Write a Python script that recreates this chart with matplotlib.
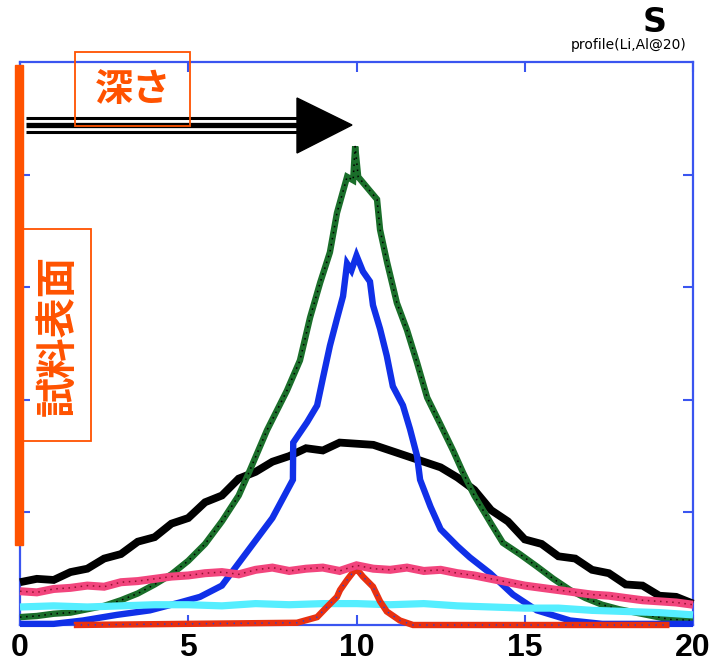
import matplotlib
matplotlib.use("Agg")
import matplotlib.pyplot as plt
from matplotlib.patches import Rectangle, Polygon
from matplotlib.lines import Line2D

# ---------------- data ----------------
black_x = [0, 0.5, 1, 1.5, 2, 2.5, 3, 3.5, 4, 4.5, 5, 5.5, 6, 6.5, 7, 7.5, 8, 8.5, 9, 9.5,
           10, 10.5, 11, 11.5, 12, 12.5, 13, 13.5, 14, 14.5, 15, 15.5, 16, 16.5, 17, 17.5,
           18, 18.5, 19, 19.5, 20]
black_y = [0.38, 0.41, 0.40, 0.47, 0.50, 0.59, 0.63, 0.74, 0.78, 0.90, 0.95, 1.09, 1.15, 1.30,
           1.36, 1.45, 1.50, 1.57, 1.55, 1.62, 1.61, 1.60, 1.55, 1.50, 1.45, 1.40, 1.31, 1.20,
           1.02, 0.92, 0.76, 0.72, 0.61, 0.59, 0.49, 0.46, 0.36, 0.35, 0.26, 0.25, 0.19]

green_x = [0, 0.5, 1, 1.5, 2, 2.5, 3, 3.5, 4, 4.5, 5, 5.5, 6, 6.5, 6.84, 7.34, 7.93, 8.32,
           8.62, 8.92, 9.21, 9.42, 9.72, 9.9, 9.96, 10.05, 10.19, 10.61, 10.70, 10.91, 11.2,
           11.5, 11.8, 12.1, 12.48, 12.87, 13.17, 13.5, 14.0, 14.35, 14.85, 15.36, 15.85,
           16.35, 16.8, 17.3, 17.8, 18.3, 18.8, 19.3, 20]
green_y = [0.07, 0.08, 0.10, 0.11, 0.14, 0.17, 0.22, 0.28, 0.36, 0.45, 0.57, 0.72, 0.92, 1.15,
           1.38, 1.73, 2.08, 2.35, 2.73, 3.04, 3.31, 3.66, 3.98, 3.95, 4.25, 3.98, 3.93, 3.78,
           3.51, 3.22, 2.86, 2.62, 2.33, 2.02, 1.79, 1.55, 1.35, 1.15, 0.90, 0.73, 0.63, 0.52,
           0.41, 0.31, 0.24, 0.18, 0.14, 0.11, 0.08, 0.05, 0.04]

blue_x = [0, 1, 1.87, 2.88, 3.86, 4.75, 5.35, 6.0, 6.5, 7.0, 7.5, 8.11, 8.12, 8.53, 8.83,
          9.0, 9.21, 9.42, 9.6, 9.72, 9.85, 10.0, 10.19, 10.4, 10.49, 10.7, 10.9, 11.08,
          11.38, 11.59, 11.8, 11.89, 12.2, 12.5, 13.0, 13.37, 13.97, 14.65, 15.36, 16.35,
          17.3, 18, 19, 20]
blue_y = [0.01, 0.01, 0.04, 0.09, 0.13, 0.20, 0.25, 0.35, 0.55, 0.75, 0.95, 1.29, 1.62, 1.80,
          1.95, 2.19, 2.48, 2.72, 2.92, 3.21, 3.15, 3.28, 3.14, 3.05, 2.84, 2.63, 2.39, 2.12,
          1.95, 1.74, 1.50, 1.29, 1.05, 0.85, 0.70, 0.60, 0.46, 0.27, 0.13, 0.04, 0.01, 0.01,
          0.01, 0.01]

pink_x = [0, 0.5, 1, 1.5, 2, 2.5, 3, 3.5, 4, 4.5, 5, 5.5, 6, 6.5, 7, 7.5, 8, 8.5, 9, 9.5,
          10, 10.5, 11, 11.5, 12, 12.5, 13, 13.5, 14, 14.5, 15, 15.5, 16, 16.5, 17, 17.5,
          18, 18.5, 19, 19.5, 20]
pink_y = [0.30, 0.29, 0.32, 0.33, 0.35, 0.34, 0.38, 0.39, 0.41, 0.43, 0.44, 0.46, 0.47, 0.45,
          0.49, 0.51, 0.48, 0.50, 0.51, 0.48, 0.53, 0.50, 0.49, 0.51, 0.48, 0.49, 0.46, 0.44,
          0.41, 0.38, 0.35, 0.33, 0.31, 0.29, 0.27, 0.26, 0.24, 0.22, 0.21, 0.20, 0.18]

cyan_x = [0, 1, 2, 3, 4, 5, 6, 7, 8, 9, 10, 11, 12, 13, 14, 15, 16, 17, 18, 19, 20]
cyan_y = [0.16, 0.17, 0.16, 0.17, 0.18, 0.18, 0.17, 0.19, 0.18, 0.19, 0.19, 0.18, 0.19, 0.17,
          0.16, 0.15, 0.15, 0.13, 0.12, 0.11, 0.09]

red_x = [1.6, 8.23, 8.83, 9.12, 9.42, 9.51, 9.72, 9.9, 10.0, 10.19, 10.49, 10.7, 10.9, 11.29,
         11.68, 19.3]
red_y = [0.0, 0.02, 0.07, 0.16, 0.25, 0.31, 0.40, 0.47, 0.50, 0.43, 0.34, 0.21, 0.12, 0.04,
         0.0, 0.0]

x_ticks = [0, 5, 10, 15, 20]
x_tick_labels = ["0", "5", "10", "15", "20"]
y_ticks = [1, 2, 3, 4]

title_big = "S"
title_small = "profile(Li,Al@20)"
label_depth = "深さ"
label_surface = "試料表面"

# ---------------- figure ----------------
W, H = 713, 666
fig = plt.figure(figsize=(W / 100, H / 100), dpi=100)
fig.patch.set_facecolor("white")

def fx(px):
    return px / W

def fy(py):
    return 1 - py / H

ax_left, ax_right, ax_top, ax_bot = 20, 693, 62, 625
ax = fig.add_axes([fx(ax_left), fy(ax_bot), (ax_right - ax_left) / W, (ax_bot - ax_top) / H])
ax.set_xlim(0, 20)
ax.set_ylim(0, 5)

axis_blue = "#3a55f0"
for s in ax.spines.values():
    s.set_color(axis_blue)
    s.set_linewidth(1.6)

ax.set_xticks(x_ticks)
ax.set_xticklabels(x_tick_labels)
ax.set_yticks(y_ticks)
ax.set_yticklabels([])
ax.tick_params(axis="both", direction="in", length=7, width=1.5, color=axis_blue,
               top=True, right=True)
ax.tick_params(axis="x", pad=6)
for lab in ax.get_xticklabels():
    lab.set_fontfamily(["Liberation Sans", "DejaVu Sans"])
    lab.set_fontweight("bold")
    lab.set_fontsize(23)
    lab.set_color("black")

common = dict(clip_on=False, solid_joinstyle="miter", solid_capstyle="butt")
ax.plot(black_x, black_y, color="black", lw=5.6, zorder=3, **common)
ax.plot(green_x, green_y, color="#1a6e2a", lw=4.6, zorder=4, **common)
ax.plot(green_x, green_y, color="black", lw=1.1, ls=(0, (1, 3)), zorder=4.1, clip_on=False)
ax.plot(blue_x, blue_y, color="#1030e8", lw=4.6, zorder=5, **common)
ax.plot(cyan_x, cyan_y, color="#55eeff", lw=5.2, zorder=6, **common)
ax.plot(red_x, red_y, color="#e83010", lw=4.6, zorder=7, **common)
ax.plot(red_x, red_y, color="#2040e0", lw=1.0, ls=(0, (1, 4)), zorder=7.1, clip_on=False)
ax.plot(pink_x, pink_y, color="#f2457d", lw=5.8, zorder=8, **common)
ax.plot(pink_x, pink_y, color="#901030", lw=1.1, ls=(0, (1, 3)), zorder=8.1, clip_on=False)

# ---------------- annotations in figure pixels ----------------
orange = "#ff5200"

# vertical orange bar (sample surface)
fig.add_artist(Rectangle((fx(15), fy(545)), 8 / W, (545 - 65) / H,
                         transform=fig.transFigure, color=orange, zorder=20))

# depth arrow: three lines + triangle head
for py, w in [(118, 2.2), (125, 3.8), (131.5, 2.2)]:
    fig.add_artist(Line2D([fx(26), fx(298)], [fy(py), fy(py)], transform=fig.transFigure,
                          color="black", lw=w, solid_capstyle="butt", zorder=20))
fig.add_artist(Polygon([(fx(297), fy(98)), (fx(297), fy(153)), (fx(352), fy(125))],
                       closed=True, transform=fig.transFigure, color="black", zorder=20))

# "深さ" box
fig.add_artist(Rectangle((fx(75), fy(126)), 115 / W, 74 / H, transform=fig.transFigure,
                         fill=False, edgecolor=orange, lw=1.3, zorder=21))
fig.text(fx(133), fy(90), label_depth, color=orange, fontsize=27.5, fontweight="bold",
         family=["Noto Sans CJK JP", "DejaVu Sans"], ha="center", va="center", zorder=22)

# "試料表面" box
fig.add_artist(Rectangle((fx(22), fy(441)), 69 / W, 212 / H, transform=fig.transFigure,
                         fill=False, edgecolor=orange, lw=1.3, zorder=21))
fig.text(fx(58), fy(336), label_surface, color=orange, fontsize=29, fontweight="bold",
         family=["Noto Sans CJK JP", "DejaVu Sans"], ha="center", va="center",
         rotation=90, zorder=22)

# titles top right
fig.text(fx(655), fy(22), title_big, fontsize=24, fontweight="bold", ha="center",
         va="center", family=["DejaVu Sans"])
fig.text(fx(686), fy(45), title_small, fontsize=10, ha="right", va="center",
         family=["DejaVu Sans"])

fig.savefig("out.png", dpi=100, facecolor="white")
